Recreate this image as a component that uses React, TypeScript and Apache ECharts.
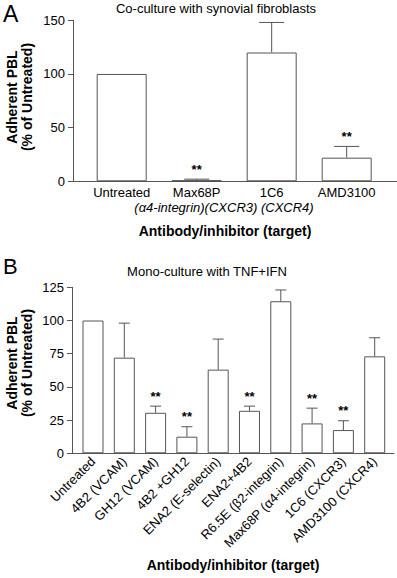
import React, { useEffect, useRef } from 'react';
import * as echarts from 'echarts';

// Panel A data
const catsA = ['Untreated', 'Max68P', '1C6', 'AMD3100'];
const valsA = [100, 1, 120, 22];
const errTopA = [100, 2, 148, 32.5];
const sigA = [0, 1, 0, 1];
const ticksA = { min: 0, max: 150, interval: 50 };
const targetsA = '(\u03b14-integrin)(CXCR3) (CXCR4)';

// Panel B data
const catsB = [
  'Untreated',
  '4B2 (VCAM)',
  'GH12 (VCAM)',
  '4B2 +GH12',
  'ENA2 (E-selectin)',
  'ENA2+4B2',
  'R6.5E (\u03b22-integrin)',
  'Max68P (\u03b14-integrin)',
  '1C6 (CXCR3)',
  'AMD3100 (CXCR4)',
];
const valsB = [100, 72, 30.5, 12.5, 63, 32, 114.5, 22.5, 17.5, 73];
const errTopB = [100, 98, 35.5, 20, 86, 35.5, 123, 34, 24.5, 87];
const sigB = [0, 0, 1, 1, 0, 1, 0, 1, 1, 0];
const ticksB = { min: 0, max: 125, interval: 25 };

const FONT = '"Liberation Sans", Arial, Helvetica, sans-serif';
const LINE = '#555';

function errSeries(xi: number, yi: number, vals: number[], tops: number[], sig: number[], capW: number) {
  return {
    type: 'custom',
    xAxisIndex: xi,
    yAxisIndex: yi,
    data: vals.map((v, i) => [i, v]),
    encode: { x: 0, y: 1 },
    clip: false,
    renderItem: (params: any, api: any) => {
      const i = params.dataIndex;
      const v = vals[i];
      const e = tops[i];
      const base = api.coord([i, v]);
      const top = api.coord([i, e]);
      const children: any[] = [];
      if (e > v) {
        children.push({
          type: 'line',
          shape: { x1: base[0], y1: base[1], x2: top[0], y2: top[1] },
          style: { stroke: LINE, lineWidth: 1 },
        });
        children.push({
          type: 'line',
          shape: { x1: top[0] - capW / 2, y1: top[1], x2: top[0] + capW / 2, y2: top[1] },
          style: { stroke: LINE, lineWidth: 1 },
        });
      }
      if (sig[i]) {
        children.push({
          type: 'text',
          style: {
            text: '**',
            x: top[0],
            y: top[1] - 10,
            align: 'center',
            verticalAlign: 'middle',
            font: `bold 13px ${FONT}`,
            fill: '#000',
          },
        });
      }
      return { type: 'group', children };
    },
    z: 3,
  };
}

export default function App() {
  const ref = useRef<HTMLDivElement>(null);
  useEffect(() => {
    document.body.style.margin = '0';
    const chart = echarts.init(ref.current!, undefined, { renderer: 'svg' });
    const yAxisCommon = {
      type: 'value',
      axisLine: { show: true, onZero: false, lineStyle: { color: LINE, width: 1 } },
      axisTick: { show: true, length: 5, lineStyle: { color: LINE } },
      axisLabel: { fontSize: 13, color: '#000', fontFamily: FONT, margin: 8 },
      splitLine: { show: false },
    };
    const option: any = {
      animation: false,
      textStyle: { fontFamily: FONT },
      grid: [
        { left: 73, top: 20.3, width: 324, height: 161 },
        { left: 72, top: 287.3, width: 322, height: 166 },
      ],
      xAxis: [
        {
          type: 'value',
          gridIndex: 0,
          min: -0.649,
          max: 3.671,
          axisLine: { show: true, onZero: false, lineStyle: { color: LINE, width: 1 } },
          axisTick: { show: false },
          splitLine: { show: false },
          axisLabel: {
            customValues: catsA.map((_, i) => i),
            formatter: (v: number) => catsA[Math.round(v)] ?? '',
            fontSize: 13,
            color: '#000',
            fontFamily: FONT,
            margin: 5,
          },
        },
        {
          type: 'value',
          gridIndex: 1,
          min: -0.671,
          max: 9.617,
          axisLine: { show: true, onZero: false, lineStyle: { color: LINE, width: 1 } },
          axisTick: { show: false },
          splitLine: { show: false },
          axisLabel: {
            customValues: catsB.map((_, i) => i),
            formatter: (v: number) => catsB[Math.round(v)] ?? '',
            fontSize: 13,
            color: '#000',
            fontFamily: FONT,
            rotate: 45,
            margin: 6,
          },
        },
      ],
      yAxis: [
        { ...yAxisCommon, gridIndex: 0, ...ticksA },
        { ...yAxisCommon, gridIndex: 1, ...ticksB },
      ],
      series: [
        {
          type: 'bar',
          xAxisIndex: 0,
          yAxisIndex: 0,
          barWidth: 50,
          data: valsA.map((v, i) => [i, v]),
          itemStyle: { color: '#fff', borderColor: LINE, borderWidth: 1 },
        },
        errSeries(0, 0, valsA, errTopA, sigA, 25),
        {
          type: 'bar',
          xAxisIndex: 1,
          yAxisIndex: 1,
          barWidth: 21,
          data: valsB.map((v, i) => [i, v]),
          itemStyle: { color: '#fff', borderColor: LINE, borderWidth: 1 },
        },
        errSeries(1, 1, valsB, errTopB, sigB, 11),
      ],
      graphic: [
        { type: 'text', left: 3, top: 2, style: { text: 'A', font: `23px ${FONT}`, fill: '#000' } },
        { type: 'text', left: 3, top: 255, style: { text: 'B', font: `22px ${FONT}`, fill: '#000' } },
        {
          type: 'text', x: 216, y: 8,
          style: { text: 'Co-culture with synovial fibroblasts', align: 'center', verticalAlign: 'middle', font: `13px ${FONT}`, fill: '#000' },
        },
        {
          type: 'text', x: 207, y: 271,
          style: { text: 'Mono-culture with TNF+IFN', align: 'center', verticalAlign: 'middle', font: `13px ${FONT}`, fill: '#000' },
        },
        {
          type: 'text', x: 224, y: 207,
          style: { text: targetsA, align: 'center', verticalAlign: 'middle', font: `italic 13px ${FONT}`, fill: '#000' },
        },
        {
          type: 'text', x: 225, y: 231,
          style: { text: 'Antibody/inhibitor (target)', align: 'center', verticalAlign: 'middle', font: `bold 14px ${FONT}`, fill: '#000' },
        },
        {
          type: 'text', x: 233, y: 565,
          style: { text: 'Antibody/inhibitor (target)', align: 'center', verticalAlign: 'middle', font: `bold 14px ${FONT}`, fill: '#000' },
        },
        {
          type: 'text', x: 19, y: 97, rotation: Math.PI / 2,
          style: { text: 'Adherent PBL\n(% of Untreated)', align: 'center', verticalAlign: 'middle', font: `bold 14px ${FONT}`, fill: '#000', lineHeight: 15 },
        },
        {
          type: 'text', x: 19, y: 363, rotation: Math.PI / 2,
          style: { text: 'Adherent PBL\n(% of Untreated)', align: 'center', verticalAlign: 'middle', font: `bold 14px ${FONT}`, fill: '#000', lineHeight: 15 },
        },
      ],
    };
    chart.setOption(option);
    return () => chart.dispose();
  }, []);
  return <div ref={ref} style={{ position: 'absolute', left: 0, top: 0, width: 397, height: 578 }} />;
}
